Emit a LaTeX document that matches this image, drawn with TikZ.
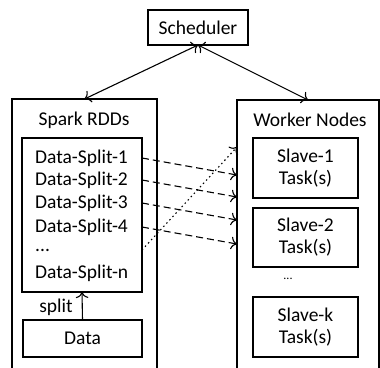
\documentclass[tikz,border=0pt]{standalone}
\usepackage{fontspec}
\setmainfont{Carlito}
\usepackage{tikz}
\usetikzlibrary{calc,arrows.meta}
\tikzstyle{bbox} = [draw,line width=1.2pt,inner sep=0pt,outer sep=0pt]
\tikzstyle{btext} = [inner sep=2pt,font=\fontsize{19.5}{22}\selectfont,align=center]
\tikzstyle{flow} = [line width=1.1pt,dash pattern=on 7pt off 4pt,->]
\newcommand{\slavetext}[1]{Slave-#1\\Task(s)}

\begin{document}
\begin{tikzpicture}[x=1pt,y=-1pt,>={To[scale=1.5]}]
	\clip (0,0) rectangle (380,367);

	\node(sched) at (198,27.5) [bbox,btext,minimum width=100pt,minimum height=35pt] {Scheduler};

	\node(spark) at (84.5,237) [bbox,minimum width=145pt,minimum height=276pt] {};
	\node(sparklbl) at (84,120) [btext] {Spark RDDs};
	\node(splits) at (82,215) [bbox,minimum width=120pt,minimum height=154pt] {};
	\node(s1) at (33,158) [btext,anchor=west] {Data-Split-1};
	\node(s2) at (33,180) [btext,anchor=west] {Data-Split-2};
	\node(s3) at (33,203) [btext,anchor=west] {Data-Split-3};
	\node(s4) at (33,227) [btext,anchor=west] {Data-Split-4};
	\node(sdots) at (33,250) [btext,anchor=west] {...};
	\node(sn) at (33,273) [btext,anchor=west] {Data-Split-n};
	\node(data) at (82.5,338.5) [bbox,btext,minimum width=119pt,minimum height=37pt] {Data};
	\node(splitlbl) at (56,307) [btext] {split};

	\node(worker) at (308,237.5) [bbox,minimum width=142pt,minimum height=275pt] {};
	\node(workerlbl) at (310,120) [btext] {Worker Nodes};
	\node(slave1) at (305.5,168) [bbox,btext,minimum width=105pt,minimum height=60pt] {\slavetext{1}};
	\node(slave2) at (305.5,237.5) [bbox,btext,minimum width=105pt,minimum height=59pt] {\slavetext{2}};
	\node(wdots) at (288,279) [btext,font=\fontsize{12}{14}\selectfont] {...};
	\node(slavek) at (305.5,327) [bbox,btext,minimum width=105pt,minimum height=60pt] {\slavetext{k}};

	\draw[line width=1.1pt,<->] (sched.south) -- (spark.north);
	\draw[line width=1.1pt,<->] (sched.south) -- (worker.north);
	\draw[line width=1.1pt,->] (data.north) -- (splits.south);

	\foreach \s in {s1,s2,s3,s4}
		\draw[flow] (splits.east |- \s) -- ($(worker.west |- \s)+(0,17)$);
	\draw[line width=1.1pt,dash pattern=on 1.5pt off 3pt,->] (splits.east |- sdots) -- ($(worker.west |- sdots)+(0,-103)$);
\end{tikzpicture}
\end{document}
